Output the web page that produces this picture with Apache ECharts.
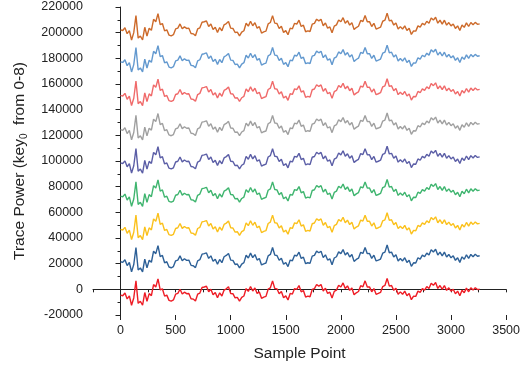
<!DOCTYPE html>
<html>
<head>
<meta charset="utf-8">
<script src="https://cdn.jsdelivr.net/npm/echarts@6/dist/echarts.min.js"></script>
<style>
html,body{margin:0;padding:0;background:#fff;}
#chart{width:523px;height:368px;}
</style>
</head>
<body>
<div id="chart"></div>
<script>
// Sample spacing of the read-off trace (sample points)
const sampleStep = 20;
// Trace shape (value relative to the trace start), one value per 20 samples
const traceShape = [
0,-500,1600,-3000,-600,-7900,-2200,11100,-6400,-4800,
-7900,2000,-4800,1200,-400,8200,6300,12600,4000,4900,
-800,0,-4100,-4700,-3800,700,1300,4600,800,2300,
1100,1300,-2800,-3100,-4600,700,1600,5900,6300,6900,
2600,4600,300,2000,-2000,1800,-700,3900,4900,6500,
1300,1100,-2100,-1800,-4700,-1800,-700,5100,2900,6700,
3200,5600,1300,2500,-2500,-1600,-1000,4600,5700,11100,
5200,4900,1100,2800,-2000,-600,-3800,1300,800,5100,
4500,7500,2600,3600,-1500,-800,-1300,4400,5000,8300,
7000,8200,3200,5400,1300,2300,-2300,2900,3900,7700,
6300,9500,5200,7200,3700,5600,300,1800,2800,7300,
6500,11100,6300,6400,2600,5100,600,1300,2100,6700,
7500,13000,7000,7500,3700,5400,600,2500,600,3100,
-500,1200,-3600,-800,-1000,3100,2100,5100,3900,6700,
5200,9300,7600,9800,5200,7500,4500,7500,3700,5700,
3100,4600,1100,3100,-500,3800,1900,5400,2600,5700,
3900,5800,4300,4700
];
// Start value of each key's trace (key 0 .. key 8)
const keyOffsets = [-4500, 21500, 46700, 72600, 98500, 124400, 151100, 177300, 202200];
const keyNames = ['key 0','key 1','key 2','key 3','key 4','key 5','key 6','key 7','key 8'];
const keyColors = ['#ee1c25','#2d6097','#fbc11c','#3fb56f','#5b5ea6','#a0a0a0','#f06a6a','#6399cf','#cd6a2a'];
const xMajorTicks = [0,500,1000,1500,2000,2500,3000,3500];

const font = 'Liberation Sans, Arial, sans-serif';
const chart = echarts.init(document.getElementById('chart'), null, {renderer:'canvas'});
const plain = v => String(v);

const series = keyOffsets.map((off, k) => ({
  name: keyNames[k],
  type: 'line',
  showSymbol: false,
  symbol: 'none',
  xAxisIndex: 0,
  yAxisIndex: 0,
  lineStyle: { width: 1.4, color: keyColors[k] },
  itemStyle: { color: keyColors[k] },
  data: traceShape.map((v, i) => [i * sampleStep, v + off])
}));

chart.setOption({
  animation: false,
  backgroundColor: '#fff',
  grid: { left: 93, right: 14, top: 7, bottom: 53, containLabel: false },
  xAxis: [{
    type: 'value', min: -250, max: 3500, interval: 250,
    axisLine: { show: true, lineStyle: { color: '#222', width: 1 } },
    axisTick: { show: true, inside: false, length: 3, lineStyle: { color: '#222' } },
    axisLabel: { show: false },
    splitLine: { show: false }
  }, {
    type: 'value', min: -250, max: 3500, position: 'bottom',
    axisLine: { show: false },
    axisTick: { show: true, inside: false, length: 5, customValues: xMajorTicks, lineStyle: { color: '#222' } },
    axisLabel: { show: true, customValues: xMajorTicks, formatter: plain, margin: 9, color: '#222', fontSize: 12.5, fontFamily: font },
    splitLine: { show: false },
    name: 'Sample Point', nameLocation: 'middle', nameGap: 31,
    nameTextStyle: { color: '#222', fontSize: 15.5, fontFamily: font }
  }],
  yAxis: [{
    type: 'value', min: -20000, max: 220000, interval: 20000,
    axisLine: { show: true, lineStyle: { color: '#222', width: 1 } },
    axisTick: { show: true, inside: false, length: 5, lineStyle: { color: '#222' } },
    minorTick: { show: true, splitNumber: 2, length: 3, lineStyle: { color: '#222' } },
    axisLabel: { margin: 10, formatter: plain, color: '#222', fontSize: 12.5, fontFamily: font },
    splitLine: { show: false },
    minorSplitLine: { show: false },
    name: '{a|Trace Power (key}{s|0}{a|  from 0-8)}',
    nameLocation: 'middle', nameGap: 63,
    nameTextStyle: {
      color: '#222', fontSize: 15.5, fontFamily: font,
      rich: {
        a: { fontSize: 15.5, fontFamily: font, color: '#222', lineHeight: 20 },
        s: { fontSize: 10, fontFamily: font, color: '#222', lineHeight: 20, padding: [8, 0, 0, 0] }
      }
    }
  }],
  series: series
});
</script>
</body>
</html>
